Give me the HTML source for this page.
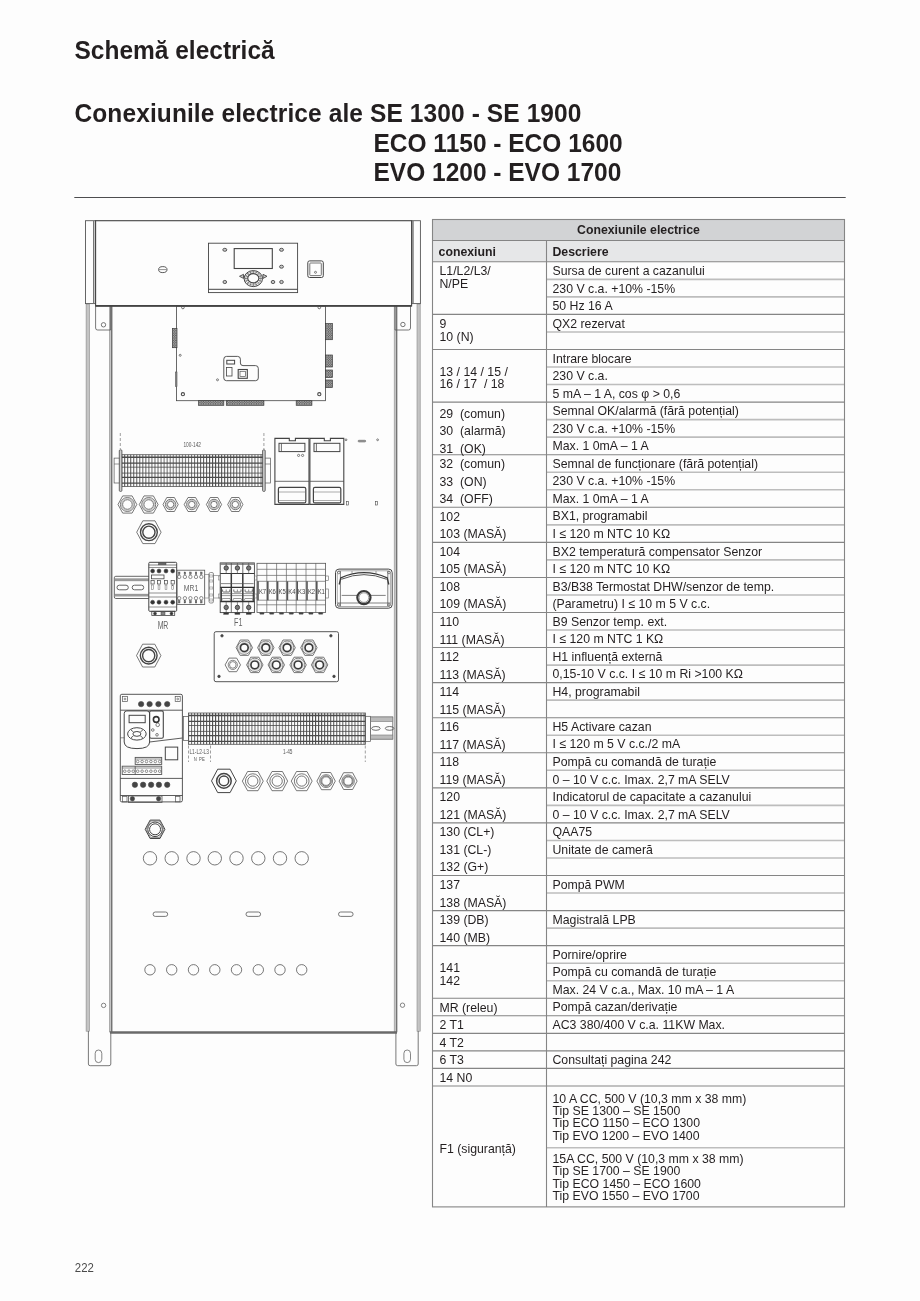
<!DOCTYPE html>
<html><head><meta charset="utf-8"><title>Schemă electrică</title>
<style>
html,body{margin:0;padding:0;background:#fdfdfd;}
body{width:920px;height:1301px;overflow:hidden;position:relative;font-family:"Liberation Sans",sans-serif;}
svg{position:absolute;left:0;top:0;will-change:transform;}
text{font-family:"Liberation Sans",sans-serif;}
</style></head><body>
<svg width="920" height="1301" viewBox="0 0 920 1301">
<defs>
<pattern id="tv" x="0" y="0" width="3.03" height="40" patternUnits="userSpaceOnUse">
<rect x="0" y="0" width="0.95" height="40" fill="#505050"/>
</pattern>
<pattern id="chk" x="0" y="0" width="2.4" height="2.4" patternUnits="userSpaceOnUse">
<rect x="0" y="0" width="2.4" height="2.4" fill="#555"/><rect x="0.2" y="0.2" width="1.1" height="1.1" fill="#e6e6e6"/><rect x="1.4" y="1.4" width="0.9" height="0.9" fill="#cfcfcf"/>
</pattern>
</defs>
<rect x="86.1" y="304" width="3.4" height="727.2" rx="0" fill="#c4c4c4" stroke="#8a8a8a" stroke-width="0.6" />
<rect x="417" y="304" width="3.2" height="727.2" rx="0" fill="#c4c4c4" stroke="#8a8a8a" stroke-width="0.6" />
<rect x="109.3" y="306" width="2.9" height="726" rx="0" fill="#d0d0d0" stroke="#8a8a8a" stroke-width="0.6" />
<line x1="111.4" y1="306" x2="111.4" y2="1032" stroke="#6a6a6a" stroke-width="1.0" />
<rect x="394.2" y="306" width="2.9" height="726" rx="0" fill="#d0d0d0" stroke="#8a8a8a" stroke-width="0.6" />
<line x1="396.4" y1="306" x2="396.4" y2="1032" stroke="#6a6a6a" stroke-width="1.0" />
<line x1="110" y1="1032.5" x2="397" y2="1032.5" stroke="#6a6a6a" stroke-width="2.4" />
<path d="M88.4,1031 L88.4,1064 Q88.4,1065.7 90.2,1065.7 L109,1065.7 Q110.8,1065.7 110.8,1064 L110.8,1032" fill="none" stroke="#6a6a6a" stroke-width="0.9"/>
<rect x="95.2" y="1050" width="6.6" height="12.6" rx="3.3" fill="none" stroke="#666" stroke-width="0.8" />
<path d="M395.9,1032 L395.9,1064 Q395.9,1065.7 397.7,1065.7 L416.4,1065.7 Q418.2,1065.7 418.2,1064 L418.2,1031" fill="none" stroke="#6a6a6a" stroke-width="0.9"/>
<rect x="403.9" y="1050" width="6.6" height="12.6" rx="3.3" fill="none" stroke="#666" stroke-width="0.8" />
<circle cx="103.6" cy="1005.4" r="2.2" fill="none" stroke="#666" stroke-width="0.8"/>
<circle cx="402.5" cy="1005.2" r="2.2" fill="none" stroke="#666" stroke-width="0.8"/>
<path d="M95.6,306 L95.6,328 Q95.6,330 97.6,330 L110.6,330 L110.6,306" fill="none" stroke="#555" stroke-width="0.8"/>
<circle cx="103.5" cy="324.8" r="2.2" fill="none" stroke="#555" stroke-width="0.8"/>
<path d="M410.5,306 L410.5,328 Q410.5,330 408.5,330 L395,330 L395,306" fill="none" stroke="#555" stroke-width="0.8"/>
<circle cx="402.9" cy="324.5" r="2.2" fill="none" stroke="#555" stroke-width="0.8"/>
<rect x="85.5" y="220.7" width="10.1" height="82.9" rx="0" fill="#fdfdfd" stroke="#555" stroke-width="0.9" />
<line x1="93.7" y1="221" x2="93.7" y2="303.6" stroke="#777" stroke-width="1.4" />
<rect x="411.6" y="220.7" width="8.8" height="82.9" rx="0" fill="#fdfdfd" stroke="#555" stroke-width="0.9" />
<line x1="413" y1="221" x2="413" y2="303.6" stroke="#777" stroke-width="1.4" />
<rect x="95.6" y="220.7" width="316" height="85.2" rx="0" fill="#fdfdfd" stroke="#444" stroke-width="1.1" />
<line x1="95.6" y1="305.9" x2="411.6" y2="305.9" stroke="#444" stroke-width="1.6" />
<ellipse cx="162.8" cy="269.6" rx="4.2" ry="3" fill="none" stroke="#4a4a4a" stroke-width="0.9"/>
<line x1="159" y1="269.6" x2="166.6" y2="269.6" stroke="#4a4a4a" stroke-width="0.6" />
<rect x="208.5" y="243.2" width="89.1" height="49.4" rx="0" fill="none" stroke="#444" stroke-width="0.9" />
<line x1="208.5" y1="289.3" x2="297.6" y2="289.3" stroke="#444" stroke-width="1.0" />
<rect x="234.2" y="248.6" width="38.1" height="19.9" rx="0" fill="none" stroke="#444" stroke-width="1.1" />
<ellipse cx="253.3" cy="278.6" rx="9.2" ry="8" fill="none" stroke="#444" stroke-width="1.0"/>
<ellipse cx="253.3" cy="278.4" rx="7.6" ry="6.6" fill="none" stroke="#777" stroke-width="0.6"/>
<ellipse cx="253.3" cy="278.3" rx="5.6" ry="4.6" fill="none" stroke="#444" stroke-width="1.2"/>
<line x1="259.1" y1="278.4" x2="262.3" y2="278.5" stroke="#555" stroke-width="0.7" />
<line x1="258.66" y1="280.24" x2="261.61" y2="281.48" stroke="#555" stroke-width="0.7" />
<line x1="257.4" y1="281.79" x2="259.66" y2="284.02" stroke="#555" stroke-width="0.7" />
<line x1="255.52" y1="282.83" x2="256.74" y2="285.71" stroke="#555" stroke-width="0.7" />
<line x1="253.3" y1="283.2" x2="253.3" y2="286.3" stroke="#555" stroke-width="0.7" />
<line x1="251.08" y1="282.83" x2="249.86" y2="285.71" stroke="#555" stroke-width="0.7" />
<line x1="249.2" y1="281.79" x2="246.94" y2="284.02" stroke="#555" stroke-width="0.7" />
<line x1="247.94" y1="280.24" x2="244.99" y2="281.48" stroke="#555" stroke-width="0.7" />
<line x1="247.5" y1="278.4" x2="244.3" y2="278.5" stroke="#555" stroke-width="0.7" />
<line x1="247.94" y1="276.56" x2="244.99" y2="275.52" stroke="#555" stroke-width="0.7" />
<line x1="249.2" y1="275.01" x2="246.94" y2="272.98" stroke="#555" stroke-width="0.7" />
<line x1="251.08" y1="273.97" x2="249.86" y2="271.29" stroke="#555" stroke-width="0.7" />
<line x1="253.3" y1="273.6" x2="253.3" y2="270.7" stroke="#555" stroke-width="0.7" />
<line x1="255.52" y1="273.97" x2="256.74" y2="271.29" stroke="#555" stroke-width="0.7" />
<line x1="257.4" y1="275.01" x2="259.66" y2="272.98" stroke="#555" stroke-width="0.7" />
<line x1="258.66" y1="276.56" x2="261.61" y2="275.52" stroke="#555" stroke-width="0.7" />
<ellipse cx="224.8" cy="249.8" rx="2" ry="1.5" fill="#c8c8c8" stroke="#4a4a4a" stroke-width="0.9"/>
<ellipse cx="281.5" cy="249.8" rx="2" ry="1.5" fill="#c8c8c8" stroke="#4a4a4a" stroke-width="0.9"/>
<ellipse cx="281.5" cy="266.7" rx="2" ry="1.5" fill="#c8c8c8" stroke="#4a4a4a" stroke-width="0.9"/>
<ellipse cx="224.8" cy="282" rx="1.8" ry="1.6" fill="#c8c8c8" stroke="#4a4a4a" stroke-width="0.9"/>
<ellipse cx="273" cy="282" rx="1.8" ry="1.6" fill="#c8c8c8" stroke="#4a4a4a" stroke-width="0.9"/>
<ellipse cx="281.5" cy="282" rx="1.8" ry="1.6" fill="#c8c8c8" stroke="#4a4a4a" stroke-width="0.9"/>
<path d="M243.5,274.3 L239.5,276.3 L243.5,278.4 Z" fill="#ccc" stroke="#4a4a4a" stroke-width="0.9"/>
<path d="M263,274.3 L267,276.3 L263,278.4 Z" fill="#ccc" stroke="#4a4a4a" stroke-width="0.9"/>
<rect x="307.8" y="260.9" width="15.5" height="16.6" rx="1.8" fill="none" stroke="#444" stroke-width="1.0" />
<rect x="309.8" y="263" width="11.5" height="12.6" rx="0.8" fill="none" stroke="#555" stroke-width="0.8" />
<circle cx="315.5" cy="272.3" r="1" fill="none" stroke="#4a4a4a" stroke-width="0.7"/>
<rect x="176.5" y="306" width="148.9" height="94.7" rx="0" fill="none" stroke="#444" stroke-width="0.8" />
<circle cx="182.9" cy="307.5" r="1.3" fill="none" stroke="#4a4a4a" stroke-width="0.8"/>
<circle cx="319.3" cy="307.5" r="1.3" fill="none" stroke="#4a4a4a" stroke-width="0.8"/>
<circle cx="182.9" cy="394.2" r="1.6" fill="none" stroke="#4a4a4a" stroke-width="1.1"/>
<circle cx="319.3" cy="394.2" r="1.6" fill="none" stroke="#4a4a4a" stroke-width="1.1"/>
<circle cx="180.2" cy="355.3" r="1" fill="none" stroke="#4a4a4a" stroke-width="0.7"/>
<circle cx="217.5" cy="379.8" r="1" fill="none" stroke="#4a4a4a" stroke-width="0.7"/>
<rect x="172.4" y="328.6" width="4.6" height="19.1" fill="url(#chk)" stroke="#3a3a3a" stroke-width="0.7"/>
<rect x="175.5" y="372" width="1.5" height="14.5" rx="0" fill="#888" stroke="#555" stroke-width="0.6" />
<rect x="325.4" y="323.6" width="7" height="16.1" fill="url(#chk)" stroke="#3a3a3a" stroke-width="0.7"/>
<rect x="325.4" y="355" width="7" height="12" fill="url(#chk)" stroke="#3a3a3a" stroke-width="0.7"/>
<rect x="325.4" y="370" width="7" height="7.5" fill="url(#chk)" stroke="#3a3a3a" stroke-width="0.7"/>
<rect x="325.4" y="380" width="7" height="7.5" fill="url(#chk)" stroke="#3a3a3a" stroke-width="0.7"/>
<rect x="198.6" y="400.7" width="25.2" height="4.6" fill="url(#chk)" stroke="#3a3a3a" stroke-width="0.7"/>
<rect x="226.3" y="400.7" width="37.6" height="4.6" fill="url(#chk)" stroke="#3a3a3a" stroke-width="0.7"/>
<rect x="296.2" y="400.7" width="15.7" height="4.6" fill="url(#chk)" stroke="#3a3a3a" stroke-width="0.7"/>
<path d="M226.5,356.4 L237.6,356.4 Q240.4,356.4 240.4,359.2 L240.4,363 Q240.4,365.6 243,365.6 L255.5,365.6 Q258.3,365.6 258.3,368.4 L258.3,378 Q258.3,380.7 255.5,380.7 L226.5,380.7 Q223.8,380.7 223.8,378 L223.8,359.2 Q223.8,356.4 226.5,356.4 Z" fill="none" stroke="#444" stroke-width="0.9"/>
<rect x="226.8" y="360.3" width="7.8" height="3.7" rx="0" fill="none" stroke="#444" stroke-width="1.0" />
<rect x="226.5" y="367.5" width="5.5" height="8.5" rx="0" fill="none" stroke="#444" stroke-width="0.8" />
<rect x="238.2" y="369.5" width="9.1" height="8.8" rx="0" fill="none" stroke="#444" stroke-width="1.1" />
<rect x="240" y="371.3" width="5.5" height="5.2" rx="0" fill="none" stroke="#555" stroke-width="0.7" />
<line x1="120.3" y1="433" x2="120.3" y2="449" stroke="#777" stroke-width="0.7" stroke-dasharray="3,2"/>
<line x1="263.9" y1="433" x2="263.9" y2="449" stroke="#777" stroke-width="0.7" stroke-dasharray="3,2"/>
<text x="192.2" y="447.3" font-size="7.0" fill="#555" text-anchor="middle" textLength="17.5" lengthAdjust="spacingAndGlyphs">100-142</text>
<rect x="114.1" y="458.1" width="5.9" height="24.9" rx="0" fill="#fdfdfd" stroke="#555" stroke-width="0.7" />
<line x1="114.1" y1="464" x2="120" y2="464" stroke="#555" stroke-width="0.6" />
<rect x="264" y="458.1" width="6.4" height="24.9" rx="0" fill="#fdfdfd" stroke="#555" stroke-width="0.7" />
<line x1="264" y1="464" x2="270.4" y2="464" stroke="#555" stroke-width="0.6" />
<rect x="121.7" y="454.7" width="141.6" height="31.8" fill="url(#tv)"/>
<line x1="121.7" y1="457.2" x2="263.3" y2="457.2" stroke="#4a4a4a" stroke-width="1.4" />
<line x1="121.7" y1="463.1" x2="263.3" y2="463.1" stroke="#4a4a4a" stroke-width="1.3" />
<line x1="121.7" y1="467.2" x2="263.3" y2="467.2" stroke="#4a4a4a" stroke-width="0.8" />
<line x1="121.7" y1="473.1" x2="263.3" y2="473.1" stroke="#4a4a4a" stroke-width="0.8" />
<line x1="121.7" y1="477.4" x2="263.3" y2="477.4" stroke="#4a4a4a" stroke-width="1.4" />
<line x1="121.7" y1="483.1" x2="263.3" y2="483.1" stroke="#4a4a4a" stroke-width="1.3" />
<rect x="121.7" y="454.7" width="141.6" height="31.8" rx="0" fill="none" stroke="#555" stroke-width="0.8" />
<rect x="119.3" y="449.8" width="2.6" height="41.6" rx="1" fill="#cfcfcf" stroke="#444" stroke-width="0.8" />
<rect x="262.6" y="449.8" width="2.6" height="41.6" rx="1" fill="#cfcfcf" stroke="#444" stroke-width="0.8" />
<polygon points="118,504.5 122.7,495.9 132.1,495.9 136.8,504.5 132.1,513.1 122.7,513.1" fill="none" stroke="#555" stroke-width="0.8" stroke-linejoin="round"/>
<circle cx="127.4" cy="504.5" r="7" fill="none" stroke="#555" stroke-width="0.8"/>
<circle cx="127.4" cy="504.5" r="5.9" fill="none" stroke="#999" stroke-width="0.6"/>
<circle cx="127.4" cy="504.5" r="4.8" fill="none" stroke="#555" stroke-width="0.8"/>
<polygon points="139.3,504.5 144,495.9 153.4,495.9 158.1,504.5 153.4,513.1 144,513.1" fill="none" stroke="#555" stroke-width="0.8" stroke-linejoin="round"/>
<circle cx="148.7" cy="504.5" r="7" fill="none" stroke="#555" stroke-width="0.8"/>
<circle cx="148.7" cy="504.5" r="5.9" fill="none" stroke="#999" stroke-width="0.6"/>
<circle cx="148.7" cy="504.5" r="4.8" fill="none" stroke="#555" stroke-width="0.8"/>
<polygon points="163,504.5 166.8,497.5 174.4,497.5 178.2,504.5 174.4,511.5 166.8,511.5" fill="none" stroke="#555" stroke-width="0.8" stroke-linejoin="round"/>
<circle cx="170.6" cy="504.5" r="5.2" fill="none" stroke="#555" stroke-width="0.8"/>
<circle cx="170.6" cy="504.5" r="4.2" fill="none" stroke="#999" stroke-width="0.6"/>
<circle cx="170.6" cy="504.5" r="3.2" fill="none" stroke="#555" stroke-width="0.8"/>
<polygon points="184.2,504.5 188,497.5 195.6,497.5 199.4,504.5 195.6,511.5 188,511.5" fill="none" stroke="#555" stroke-width="0.8" stroke-linejoin="round"/>
<circle cx="191.8" cy="504.5" r="5.2" fill="none" stroke="#555" stroke-width="0.8"/>
<circle cx="191.8" cy="504.5" r="4.2" fill="none" stroke="#999" stroke-width="0.6"/>
<circle cx="191.8" cy="504.5" r="3.2" fill="none" stroke="#555" stroke-width="0.8"/>
<polygon points="206.4,504.5 210.2,497.5 217.8,497.5 221.6,504.5 217.8,511.5 210.2,511.5" fill="none" stroke="#555" stroke-width="0.8" stroke-linejoin="round"/>
<circle cx="214" cy="504.5" r="5.2" fill="none" stroke="#555" stroke-width="0.8"/>
<circle cx="214" cy="504.5" r="4.2" fill="none" stroke="#999" stroke-width="0.6"/>
<circle cx="214" cy="504.5" r="3.2" fill="none" stroke="#555" stroke-width="0.8"/>
<polygon points="227.7,504.5 231.5,497.5 239.1,497.5 242.9,504.5 239.1,511.5 231.5,511.5" fill="none" stroke="#555" stroke-width="0.8" stroke-linejoin="round"/>
<circle cx="235.3" cy="504.5" r="5.2" fill="none" stroke="#555" stroke-width="0.8"/>
<circle cx="235.3" cy="504.5" r="4.2" fill="none" stroke="#999" stroke-width="0.6"/>
<circle cx="235.3" cy="504.5" r="3.2" fill="none" stroke="#555" stroke-width="0.8"/>
<polygon points="136.7,532.2 142.8,520.8 155,520.8 161.1,532.2 155,543.6 142.8,543.6" fill="none" stroke="#555" stroke-width="0.8" stroke-linejoin="round"/>
<circle cx="148.9" cy="532.2" r="8.4" fill="none" stroke="#444" stroke-width="1.4"/>
<circle cx="148.9" cy="532.2" r="6.1" fill="none" stroke="#444" stroke-width="1.4"/>
<path d="M274.9,438.4 L289.3,438.4 L289.3,440.7 L295.4,440.7 L295.4,438.4 L309,438.4 L309,504.4 L274.9,504.4 Z" fill="none" stroke="#444" stroke-width="1.1"/>
<rect x="279" y="443.3" width="25.9" height="8.3" rx="0" fill="none" stroke="#444" stroke-width="1.0" />
<line x1="281.4" y1="443.3" x2="281.4" y2="451.6" stroke="#4a4a4a" stroke-width="0.8" />
<line x1="274.9" y1="481.3" x2="309" y2="481.3" stroke="#4a4a4a" stroke-width="0.8" />
<rect x="278.4" y="487.4" width="27.4" height="15.5" rx="1.5" fill="none" stroke="#444" stroke-width="1.2" />
<line x1="278.9" y1="492" x2="305.3" y2="492" stroke="#777" stroke-width="0.6" />
<line x1="278.9" y1="500.5" x2="305.3" y2="500.5" stroke="#777" stroke-width="0.6" />
<path d="M309.9,438.4 L324.3,438.4 L324.3,440.7 L330.4,440.7 L330.4,438.4 L343.8,438.4 L343.8,504.4 L309.9,504.4 Z" fill="none" stroke="#444" stroke-width="1.1"/>
<rect x="314" y="443.3" width="25.9" height="8.3" rx="0" fill="none" stroke="#444" stroke-width="1.0" />
<line x1="316.4" y1="443.3" x2="316.4" y2="451.6" stroke="#4a4a4a" stroke-width="0.8" />
<line x1="309.9" y1="481.3" x2="343.8" y2="481.3" stroke="#4a4a4a" stroke-width="0.8" />
<rect x="313.4" y="487.4" width="27.4" height="15.5" rx="1.5" fill="none" stroke="#444" stroke-width="1.2" />
<line x1="313.9" y1="492" x2="340.3" y2="492" stroke="#777" stroke-width="0.6" />
<line x1="313.9" y1="500.5" x2="340.3" y2="500.5" stroke="#777" stroke-width="0.6" />
<circle cx="298.6" cy="455.4" r="1.1" fill="none" stroke="#4a4a4a" stroke-width="0.7"/>
<circle cx="302.6" cy="455.4" r="1.1" fill="none" stroke="#4a4a4a" stroke-width="0.7"/>
<circle cx="346" cy="439.8" r="0.9" fill="none" stroke="#4a4a4a" stroke-width="0.7"/>
<circle cx="377.6" cy="439.8" r="0.9" fill="none" stroke="#4a4a4a" stroke-width="0.7"/>
<rect x="358.1" y="440.3" width="7.6" height="1.6" rx="0.8" fill="#aaa" stroke="#666" stroke-width="0.7" />
<rect x="346.6" y="501.5" width="1.8" height="3.5" rx="0" fill="none" stroke="#4a4a4a" stroke-width="0.6" />
<rect x="375.6" y="501.5" width="1.8" height="3.5" rx="0" fill="none" stroke="#4a4a4a" stroke-width="0.6" />
<path d="M149,576.3 L115.8,576.3 Q114.3,576.3 114.3,577.8 L114.3,597 Q114.3,598.5 115.8,598.5 L149,598.5" fill="none" stroke="#555" stroke-width="0.9"/>
<rect x="114.8" y="578.3" width="34.2" height="2.4" rx="0" fill="#9a9a9a" stroke="none" stroke-width="0" />
<rect x="114.8" y="594.3" width="34.2" height="2.2" rx="0" fill="#9a9a9a" stroke="none" stroke-width="0" />
<line x1="114.3" y1="580.7" x2="149" y2="580.7" stroke="#777" stroke-width="0.6" />
<line x1="114.3" y1="594.3" x2="149" y2="594.3" stroke="#777" stroke-width="0.6" />
<rect x="117" y="585.2" width="11.3" height="4.6" rx="2.3" fill="none" stroke="#555" stroke-width="0.9" />
<rect x="132.2" y="585.2" width="11.5" height="4.6" rx="2.3" fill="none" stroke="#555" stroke-width="0.9" />
<rect x="148.8" y="562.3" width="27.9" height="49" rx="1" fill="#fdfdfd" stroke="#444" stroke-width="1.0" />
<line x1="148.8" y1="565" x2="176.7" y2="565" stroke="#4a4a4a" stroke-width="0.7" />
<rect x="158.5" y="562.3" width="7.5" height="2.5" rx="0" fill="#666" stroke="#4a4a4a" stroke-width="0.5" />
<line x1="148.8" y1="567.5" x2="176.7" y2="567.5" stroke="#4a4a4a" stroke-width="0.6" />
<circle cx="152.6" cy="571" r="2" fill="#333" stroke="#4a4a4a" stroke-width="0.5"/>
<circle cx="159" cy="571" r="2" fill="#333" stroke="#4a4a4a" stroke-width="0.5"/>
<circle cx="166" cy="571" r="2" fill="#333" stroke="#4a4a4a" stroke-width="0.5"/>
<circle cx="172.7" cy="571" r="2" fill="#333" stroke="#4a4a4a" stroke-width="0.5"/>
<rect x="151.5" y="575" width="12.5" height="3.8" rx="0" fill="none" stroke="#444" stroke-width="0.8" />
<rect x="151" y="580.5" width="3.2" height="3.5" rx="0" fill="none" stroke="#444" stroke-width="0.7" />
<rect x="151.7" y="585" width="1.8" height="4.5" rx="0" fill="none" stroke="#666" stroke-width="0.5" />
<rect x="157.4" y="580.5" width="3.2" height="3.5" rx="0" fill="none" stroke="#444" stroke-width="0.7" />
<rect x="158.1" y="585" width="1.8" height="4.5" rx="0" fill="none" stroke="#666" stroke-width="0.5" />
<rect x="164.4" y="580.5" width="3.2" height="3.5" rx="0" fill="none" stroke="#444" stroke-width="0.7" />
<rect x="165.1" y="585" width="1.8" height="4.5" rx="0" fill="none" stroke="#666" stroke-width="0.5" />
<rect x="171.1" y="580.5" width="3.2" height="3.5" rx="0" fill="none" stroke="#444" stroke-width="0.7" />
<rect x="171.8" y="585" width="1.8" height="4.5" rx="0" fill="none" stroke="#666" stroke-width="0.5" />
<line x1="148.8" y1="593" x2="176.7" y2="593" stroke="#4a4a4a" stroke-width="0.6" />
<line x1="148.8" y1="597" x2="176.7" y2="597" stroke="#4a4a4a" stroke-width="0.6" />
<circle cx="152.6" cy="602.2" r="2" fill="#333" stroke="#4a4a4a" stroke-width="0.5"/>
<circle cx="159" cy="602.2" r="2" fill="#333" stroke="#4a4a4a" stroke-width="0.5"/>
<circle cx="166" cy="602.2" r="2" fill="#333" stroke="#4a4a4a" stroke-width="0.5"/>
<circle cx="172.7" cy="602.2" r="2" fill="#333" stroke="#4a4a4a" stroke-width="0.5"/>
<line x1="148.8" y1="607" x2="176.7" y2="607" stroke="#4a4a4a" stroke-width="0.6" />
<rect x="151.8" y="611.3" width="22.9" height="4.3" rx="0" fill="none" stroke="#444" stroke-width="0.8" />
<circle cx="155" cy="613.5" r="1.5" fill="#333" stroke="#4a4a4a" stroke-width="0.5"/>
<circle cx="171.5" cy="613.5" r="1.5" fill="#333" stroke="#4a4a4a" stroke-width="0.5"/>
<rect x="161" y="612.3" width="4" height="2.5" rx="0" fill="#888" stroke="#4a4a4a" stroke-width="0.5" />
<rect x="177" y="570.2" width="27.7" height="34.3" rx="0" fill="none" stroke="#555" stroke-width="0.8" />
<circle cx="179.2" cy="576.9" r="1.7" fill="none" stroke="#4a4a4a" stroke-width="0.6"/>
<circle cx="179.2" cy="598.2" r="1.7" fill="none" stroke="#4a4a4a" stroke-width="0.6"/>
<rect x="178.4" y="572" width="1.6" height="2.5" rx="0" fill="#777" stroke="#4a4a4a" stroke-width="0.4" />
<rect x="178.4" y="600.6" width="1.6" height="2.4" rx="0" fill="#777" stroke="#4a4a4a" stroke-width="0.4" />
<circle cx="184.9" cy="576.9" r="1.7" fill="none" stroke="#4a4a4a" stroke-width="0.6"/>
<circle cx="184.9" cy="598.2" r="1.7" fill="none" stroke="#4a4a4a" stroke-width="0.6"/>
<rect x="184.1" y="572" width="1.6" height="2.5" rx="0" fill="#777" stroke="#4a4a4a" stroke-width="0.4" />
<rect x="184.1" y="600.6" width="1.6" height="2.4" rx="0" fill="#777" stroke="#4a4a4a" stroke-width="0.4" />
<circle cx="190.4" cy="576.9" r="1.7" fill="none" stroke="#4a4a4a" stroke-width="0.6"/>
<circle cx="190.4" cy="598.2" r="1.7" fill="none" stroke="#4a4a4a" stroke-width="0.6"/>
<rect x="189.6" y="572" width="1.6" height="2.5" rx="0" fill="#777" stroke="#4a4a4a" stroke-width="0.4" />
<rect x="189.6" y="600.6" width="1.6" height="2.4" rx="0" fill="#777" stroke="#4a4a4a" stroke-width="0.4" />
<circle cx="196" cy="576.9" r="1.7" fill="none" stroke="#4a4a4a" stroke-width="0.6"/>
<circle cx="196" cy="598.2" r="1.7" fill="none" stroke="#4a4a4a" stroke-width="0.6"/>
<rect x="195.2" y="572" width="1.6" height="2.5" rx="0" fill="#777" stroke="#4a4a4a" stroke-width="0.4" />
<rect x="195.2" y="600.6" width="1.6" height="2.4" rx="0" fill="#777" stroke="#4a4a4a" stroke-width="0.4" />
<circle cx="201.3" cy="576.9" r="1.7" fill="none" stroke="#4a4a4a" stroke-width="0.6"/>
<circle cx="201.3" cy="598.2" r="1.7" fill="none" stroke="#4a4a4a" stroke-width="0.6"/>
<rect x="200.5" y="572" width="1.6" height="2.5" rx="0" fill="#777" stroke="#4a4a4a" stroke-width="0.4" />
<rect x="200.5" y="600.6" width="1.6" height="2.4" rx="0" fill="#777" stroke="#4a4a4a" stroke-width="0.4" />
<text x="191" y="591.3" font-size="9.8" fill="#666" text-anchor="middle" textLength="14.5" lengthAdjust="spacingAndGlyphs">MR1</text>
<rect x="204.7" y="574.5" width="4.3" height="23.5" rx="0" fill="none" stroke="#777" stroke-width="0.6" />
<rect x="209" y="572.5" width="4.5" height="30.5" rx="1.5" fill="none" stroke="#666" stroke-width="0.7" />
<rect x="209.6" y="575" width="3.3" height="2" rx="0" fill="none" stroke="#777" stroke-width="0.5" />
<rect x="209.6" y="580" width="3.3" height="2" rx="0" fill="none" stroke="#777" stroke-width="0.5" />
<rect x="209.6" y="587" width="3.3" height="2" rx="0" fill="none" stroke="#777" stroke-width="0.5" />
<rect x="209.6" y="594" width="3.3" height="2" rx="0" fill="none" stroke="#777" stroke-width="0.5" />
<rect x="209.6" y="599" width="3.3" height="2" rx="0" fill="none" stroke="#777" stroke-width="0.5" />
<rect x="213.5" y="575.5" width="6.8" height="22.5" rx="0" fill="none" stroke="#777" stroke-width="0.6" />
<rect x="220.2" y="563" width="34.2" height="49.6" rx="0" fill="#fdfdfd" stroke="#444" stroke-width="0.9" />
<rect x="220.2" y="563" width="34.2" height="1.6" rx="0" fill="#999" stroke="#666" stroke-width="0.5" />
<line x1="231.3" y1="563" x2="231.3" y2="573.5" stroke="#4a4a4a" stroke-width="0.8" />
<line x1="231.3" y1="573.5" x2="231.3" y2="601.5" stroke="#3a3a3a" stroke-width="1.5" />
<line x1="231.3" y1="601.5" x2="231.3" y2="612.6" stroke="#4a4a4a" stroke-width="0.8" />
<line x1="242.8" y1="563" x2="242.8" y2="573.5" stroke="#4a4a4a" stroke-width="0.8" />
<line x1="242.8" y1="573.5" x2="242.8" y2="601.5" stroke="#3a3a3a" stroke-width="1.5" />
<line x1="242.8" y1="601.5" x2="242.8" y2="612.6" stroke="#4a4a4a" stroke-width="0.8" />
<line x1="220.2" y1="573.5" x2="254.4" y2="573.5" stroke="#3a3a3a" stroke-width="1.0" />
<line x1="221" y1="583.6" x2="253.6" y2="583.6" stroke="#555" stroke-width="0.7" />
<line x1="220.2" y1="587.4" x2="254.4" y2="587.4" stroke="#333" stroke-width="1.3" />
<line x1="221" y1="593.6" x2="253.6" y2="593.6" stroke="#555" stroke-width="0.6" />
<line x1="221" y1="595.6" x2="253.6" y2="595.6" stroke="#555" stroke-width="0.6" />
<line x1="220.2" y1="601.5" x2="254.4" y2="601.5" stroke="#333" stroke-width="1.4" />
<line x1="221.3" y1="587.4" x2="221.3" y2="601.5" stroke="#333" stroke-width="1.2" />
<line x1="253.3" y1="587.4" x2="253.3" y2="601.5" stroke="#333" stroke-width="1.2" />
<line x1="226.2" y1="563" x2="226.2" y2="573.5" stroke="#444" stroke-width="0.6" />
<line x1="226.2" y1="601.5" x2="226.2" y2="612.6" stroke="#444" stroke-width="0.6" />
<circle cx="226.2" cy="568" r="2.2" fill="#777" stroke="#333" stroke-width="0.8"/>
<circle cx="226.2" cy="607.4" r="2.2" fill="#777" stroke="#333" stroke-width="0.8"/>
<path d="M222.6,589.5 L222.6,591.2 Q222.6,592 223.4,592 L229,592 Q229.8,592 229.8,591.2 L229.8,589.5" fill="none" stroke="#444" stroke-width="0.8"/>
<line x1="226.2" y1="589.5" x2="226.2" y2="591.5" stroke="#444" stroke-width="0.6" />
<path d="M221.7,600.5 L222.4,598.5 L230,598.5 L230.7,600.5" fill="none" stroke="#555" stroke-width="0.6"/>
<rect x="223.7" y="612.6" width="5" height="1.8" rx="0" fill="#333" stroke="#4a4a4a" stroke-width="0.4" />
<line x1="237.4" y1="563" x2="237.4" y2="573.5" stroke="#444" stroke-width="0.6" />
<line x1="237.4" y1="601.5" x2="237.4" y2="612.6" stroke="#444" stroke-width="0.6" />
<circle cx="237.4" cy="568" r="2.2" fill="#777" stroke="#333" stroke-width="0.8"/>
<circle cx="237.4" cy="607.4" r="2.2" fill="#777" stroke="#333" stroke-width="0.8"/>
<path d="M233.8,589.5 L233.8,591.2 Q233.8,592 234.6,592 L240.2,592 Q241,592 241,591.2 L241,589.5" fill="none" stroke="#444" stroke-width="0.8"/>
<line x1="237.4" y1="589.5" x2="237.4" y2="591.5" stroke="#444" stroke-width="0.6" />
<path d="M232.9,600.5 L233.6,598.5 L241.2,598.5 L241.9,600.5" fill="none" stroke="#555" stroke-width="0.6"/>
<rect x="234.9" y="612.6" width="5" height="1.8" rx="0" fill="#333" stroke="#4a4a4a" stroke-width="0.4" />
<line x1="248.7" y1="563" x2="248.7" y2="573.5" stroke="#444" stroke-width="0.6" />
<line x1="248.7" y1="601.5" x2="248.7" y2="612.6" stroke="#444" stroke-width="0.6" />
<circle cx="248.7" cy="568" r="2.2" fill="#777" stroke="#333" stroke-width="0.8"/>
<circle cx="248.7" cy="607.4" r="2.2" fill="#777" stroke="#333" stroke-width="0.8"/>
<path d="M245.1,589.5 L245.1,591.2 Q245.1,592 245.9,592 L251.5,592 Q252.3,592 252.3,591.2 L252.3,589.5" fill="none" stroke="#444" stroke-width="0.8"/>
<line x1="248.7" y1="589.5" x2="248.7" y2="591.5" stroke="#444" stroke-width="0.6" />
<path d="M244.2,600.5 L244.9,598.5 L252.5,598.5 L253.2,600.5" fill="none" stroke="#555" stroke-width="0.6"/>
<rect x="246.2" y="612.6" width="5" height="1.8" rx="0" fill="#333" stroke="#4a4a4a" stroke-width="0.4" />
<rect x="218.5" y="576" width="1.7" height="4" rx="0" fill="none" stroke="#777" stroke-width="0.5" />
<rect x="218.5" y="594" width="1.7" height="4" rx="0" fill="none" stroke="#777" stroke-width="0.5" />
<rect x="254.4" y="576" width="2.6" height="4" rx="0" fill="none" stroke="#777" stroke-width="0.5" />
<rect x="254.4" y="594" width="2.6" height="4" rx="0" fill="none" stroke="#777" stroke-width="0.5" />
<text x="238.2" y="625.8" font-size="11.5" fill="#666" text-anchor="middle" textLength="8.4" lengthAdjust="spacingAndGlyphs">F1</text>
<text x="163" y="628.9" font-size="10.2" fill="#666" text-anchor="middle" textLength="10.7" lengthAdjust="spacingAndGlyphs">MR</text>
<rect x="257" y="563.3" width="68.6" height="49.3" rx="0" fill="#fdfdfd" stroke="#555" stroke-width="0.8" />
<line x1="266.8" y1="563" x2="266.8" y2="612.6" stroke="#666" stroke-width="0.7" />
<line x1="276.6" y1="563" x2="276.6" y2="612.6" stroke="#666" stroke-width="0.7" />
<line x1="286.4" y1="563" x2="286.4" y2="612.6" stroke="#666" stroke-width="0.7" />
<line x1="296.2" y1="563" x2="296.2" y2="612.6" stroke="#666" stroke-width="0.7" />
<line x1="306" y1="563" x2="306" y2="612.6" stroke="#666" stroke-width="0.7" />
<line x1="315.8" y1="563" x2="315.8" y2="612.6" stroke="#666" stroke-width="0.7" />
<line x1="257" y1="569.3" x2="325.6" y2="569.3" stroke="#666" stroke-width="0.7" />
<line x1="257" y1="575.4" x2="325.6" y2="575.4" stroke="#666" stroke-width="0.7" />
<line x1="257" y1="581.3" x2="325.6" y2="581.3" stroke="#666" stroke-width="0.7" />
<line x1="257" y1="600.2" x2="325.6" y2="600.2" stroke="#666" stroke-width="0.7" />
<line x1="257" y1="604.8" x2="325.6" y2="604.8" stroke="#666" stroke-width="0.7" />
<line x1="258" y1="581.3" x2="258" y2="600.2" stroke="#555" stroke-width="1.6" />
<text x="262.5" y="594.3" font-size="8" fill="#444" text-anchor="middle" textLength="7.2" lengthAdjust="spacingAndGlyphs">K7</text>
<rect x="259.8" y="612.6" width="4.2" height="1.6" rx="0.5" fill="#444" stroke="#4a4a4a" stroke-width="0.4" />
<line x1="267.8" y1="581.3" x2="267.8" y2="600.2" stroke="#555" stroke-width="1.6" />
<text x="272.3" y="594.3" font-size="8" fill="#444" text-anchor="middle" textLength="7.2" lengthAdjust="spacingAndGlyphs">K6</text>
<rect x="269.6" y="612.6" width="4.2" height="1.6" rx="0.5" fill="#444" stroke="#4a4a4a" stroke-width="0.4" />
<line x1="277.6" y1="581.3" x2="277.6" y2="600.2" stroke="#555" stroke-width="1.6" />
<text x="282.1" y="594.3" font-size="8" fill="#444" text-anchor="middle" textLength="7.2" lengthAdjust="spacingAndGlyphs">K5</text>
<rect x="279.4" y="612.6" width="4.2" height="1.6" rx="0.5" fill="#444" stroke="#4a4a4a" stroke-width="0.4" />
<line x1="287.4" y1="581.3" x2="287.4" y2="600.2" stroke="#555" stroke-width="1.6" />
<text x="291.9" y="594.3" font-size="8" fill="#444" text-anchor="middle" textLength="7.2" lengthAdjust="spacingAndGlyphs">K4</text>
<rect x="289.2" y="612.6" width="4.2" height="1.6" rx="0.5" fill="#444" stroke="#4a4a4a" stroke-width="0.4" />
<line x1="297.2" y1="581.3" x2="297.2" y2="600.2" stroke="#555" stroke-width="1.6" />
<text x="301.7" y="594.3" font-size="8" fill="#444" text-anchor="middle" textLength="7.2" lengthAdjust="spacingAndGlyphs">K3</text>
<rect x="299" y="612.6" width="4.2" height="1.6" rx="0.5" fill="#444" stroke="#4a4a4a" stroke-width="0.4" />
<line x1="307" y1="581.3" x2="307" y2="600.2" stroke="#555" stroke-width="1.6" />
<text x="311.5" y="594.3" font-size="8" fill="#444" text-anchor="middle" textLength="7.2" lengthAdjust="spacingAndGlyphs">K2</text>
<rect x="308.8" y="612.6" width="4.2" height="1.6" rx="0.5" fill="#444" stroke="#4a4a4a" stroke-width="0.4" />
<line x1="316.8" y1="581.3" x2="316.8" y2="600.2" stroke="#555" stroke-width="1.6" />
<text x="321.3" y="594.3" font-size="8" fill="#444" text-anchor="middle" textLength="7.2" lengthAdjust="spacingAndGlyphs">K1</text>
<rect x="318.6" y="612.6" width="4.2" height="1.6" rx="0.5" fill="#444" stroke="#4a4a4a" stroke-width="0.4" />
<rect x="325.6" y="576" width="2.9" height="4.5" rx="0" fill="none" stroke="#666" stroke-width="0.6" />
<rect x="325.6" y="589" width="2.9" height="9" rx="0" fill="none" stroke="#666" stroke-width="0.6" />
<rect x="335.5" y="569.1" width="56.7" height="39.1" rx="3.5" fill="none" stroke="#444" stroke-width="1.0" />
<rect x="337.3" y="570.8" width="53.1" height="35.7" rx="2.5" fill="none" stroke="#777" stroke-width="0.6" />
<line x1="340.4" y1="571" x2="340.4" y2="606.3" stroke="#4a4a4a" stroke-width="0.7" />
<line x1="387.8" y1="571" x2="387.8" y2="606.3" stroke="#4a4a4a" stroke-width="0.7" />
<path d="M339.2,584.5 L340.8,577.8 Q364,567.5 387.2,577.8 L388.8,584.5" fill="none" stroke="#3a3a3a" stroke-width="1.3"/>
<path d="M341.3,579.3 Q364,570 386.7,579.3" fill="none" stroke="#555" stroke-width="1.0"/>
<line x1="352" y1="573.4" x2="352" y2="571" stroke="#666" stroke-width="0.6" />
<line x1="376" y1="573.4" x2="376" y2="571" stroke="#666" stroke-width="0.6" />
<line x1="341.7" y1="595.4" x2="357" y2="595.4" stroke="#4a4a4a" stroke-width="0.7" />
<line x1="370.8" y1="595.4" x2="385.7" y2="595.4" stroke="#4a4a4a" stroke-width="0.7" />
<line x1="337.3" y1="603" x2="390.4" y2="603" stroke="#4a4a4a" stroke-width="0.7" />
<circle cx="363.9" cy="597.6" r="6.6" fill="none" stroke="#3a3a3a" stroke-width="2.2"/>
<circle cx="363.9" cy="597.6" r="4.8" fill="none" stroke="#666" stroke-width="0.6"/>
<circle cx="338.8" cy="572.5" r="1.3" fill="none" stroke="#4a4a4a" stroke-width="0.6"/>
<circle cx="389" cy="572.5" r="1.3" fill="none" stroke="#4a4a4a" stroke-width="0.6"/>
<circle cx="338.8" cy="605" r="1.3" fill="none" stroke="#4a4a4a" stroke-width="0.6"/>
<circle cx="389" cy="605" r="1.3" fill="none" stroke="#4a4a4a" stroke-width="0.6"/>
<rect x="214.2" y="631.7" width="124.3" height="50" rx="1.8" fill="none" stroke="#444" stroke-width="0.9" />
<circle cx="222" cy="635.8" r="1.3" fill="#444" stroke="#4a4a4a" stroke-width="0.6"/>
<circle cx="330.9" cy="635.8" r="1.3" fill="#444" stroke="#4a4a4a" stroke-width="0.6"/>
<circle cx="219" cy="676.4" r="1.3" fill="#444" stroke="#4a4a4a" stroke-width="0.6"/>
<circle cx="334" cy="676.4" r="1.3" fill="#444" stroke="#4a4a4a" stroke-width="0.6"/>
<polygon points="236.1,647.7 240.2,640 248.4,640 252.5,647.7 248.4,655.4 240.2,655.4" fill="none" stroke="#555" stroke-width="0.8" stroke-linejoin="round"/>
<circle cx="244.3" cy="647.7" r="6.7" fill="none" stroke="#555" stroke-width="0.7"/>
<circle cx="244.3" cy="647.7" r="3.9" fill="none" stroke="#3a3a3a" stroke-width="1.7"/>
<circle cx="244.3" cy="647.7" r="5.2" fill="none" stroke="#999" stroke-width="0.5"/>
<polygon points="257.6,647.7 261.7,640 269.9,640 274,647.7 269.9,655.4 261.7,655.4" fill="none" stroke="#555" stroke-width="0.8" stroke-linejoin="round"/>
<circle cx="265.8" cy="647.7" r="6.7" fill="none" stroke="#555" stroke-width="0.7"/>
<circle cx="265.8" cy="647.7" r="3.9" fill="none" stroke="#3a3a3a" stroke-width="1.7"/>
<circle cx="265.8" cy="647.7" r="5.2" fill="none" stroke="#999" stroke-width="0.5"/>
<polygon points="278.9,647.7 283,640 291.2,640 295.3,647.7 291.2,655.4 283,655.4" fill="none" stroke="#555" stroke-width="0.8" stroke-linejoin="round"/>
<circle cx="287.1" cy="647.7" r="6.7" fill="none" stroke="#555" stroke-width="0.7"/>
<circle cx="287.1" cy="647.7" r="3.9" fill="none" stroke="#3a3a3a" stroke-width="1.7"/>
<circle cx="287.1" cy="647.7" r="5.2" fill="none" stroke="#999" stroke-width="0.5"/>
<polygon points="300.7,647.7 304.8,640 313,640 317.1,647.7 313,655.4 304.8,655.4" fill="none" stroke="#555" stroke-width="0.8" stroke-linejoin="round"/>
<circle cx="308.9" cy="647.7" r="6.7" fill="none" stroke="#555" stroke-width="0.7"/>
<circle cx="308.9" cy="647.7" r="3.9" fill="none" stroke="#3a3a3a" stroke-width="1.7"/>
<circle cx="308.9" cy="647.7" r="5.2" fill="none" stroke="#999" stroke-width="0.5"/>
<polygon points="246.6,664.9 250.7,657.2 258.9,657.2 263,664.9 258.9,672.6 250.7,672.6" fill="none" stroke="#555" stroke-width="0.8" stroke-linejoin="round"/>
<circle cx="254.8" cy="664.9" r="6.7" fill="none" stroke="#555" stroke-width="0.7"/>
<circle cx="254.8" cy="664.9" r="3.9" fill="none" stroke="#3a3a3a" stroke-width="1.7"/>
<circle cx="254.8" cy="664.9" r="5.2" fill="none" stroke="#999" stroke-width="0.5"/>
<polygon points="268.1,664.9 272.2,657.2 280.4,657.2 284.5,664.9 280.4,672.6 272.2,672.6" fill="none" stroke="#555" stroke-width="0.8" stroke-linejoin="round"/>
<circle cx="276.3" cy="664.9" r="6.7" fill="none" stroke="#555" stroke-width="0.7"/>
<circle cx="276.3" cy="664.9" r="3.9" fill="none" stroke="#3a3a3a" stroke-width="1.7"/>
<circle cx="276.3" cy="664.9" r="5.2" fill="none" stroke="#999" stroke-width="0.5"/>
<polygon points="289.9,664.9 294,657.2 302.2,657.2 306.3,664.9 302.2,672.6 294,672.6" fill="none" stroke="#555" stroke-width="0.8" stroke-linejoin="round"/>
<circle cx="298.1" cy="664.9" r="6.7" fill="none" stroke="#555" stroke-width="0.7"/>
<circle cx="298.1" cy="664.9" r="3.9" fill="none" stroke="#3a3a3a" stroke-width="1.7"/>
<circle cx="298.1" cy="664.9" r="5.2" fill="none" stroke="#999" stroke-width="0.5"/>
<polygon points="311.4,664.9 315.5,657.2 323.7,657.2 327.8,664.9 323.7,672.6 315.5,672.6" fill="none" stroke="#555" stroke-width="0.8" stroke-linejoin="round"/>
<circle cx="319.6" cy="664.9" r="6.7" fill="none" stroke="#555" stroke-width="0.7"/>
<circle cx="319.6" cy="664.9" r="3.9" fill="none" stroke="#3a3a3a" stroke-width="1.7"/>
<circle cx="319.6" cy="664.9" r="5.2" fill="none" stroke="#999" stroke-width="0.5"/>
<polygon points="225.1,664.9 228.95,658.1 236.65,658.1 240.5,664.9 236.65,671.7 228.95,671.7" fill="none" stroke="#555" stroke-width="0.8" stroke-linejoin="round"/>
<circle cx="232.8" cy="664.9" r="4.6" fill="none" stroke="#555" stroke-width="0.7"/>
<circle cx="232.8" cy="664.9" r="3.3" fill="none" stroke="#555" stroke-width="0.7"/>
<polygon points="136.5,655.6 142.6,644.2 154.8,644.2 160.9,655.6 154.8,667 142.6,667" fill="none" stroke="#555" stroke-width="0.8" stroke-linejoin="round"/>
<circle cx="148.7" cy="655.6" r="8.4" fill="none" stroke="#444" stroke-width="1.4"/>
<circle cx="148.7" cy="655.6" r="6.1" fill="none" stroke="#444" stroke-width="1.4"/>
<rect x="120.3" y="694.3" width="62.1" height="107.6" rx="1.5" fill="none" stroke="#444" stroke-width="0.9" />
<rect x="122.5" y="696.5" width="5" height="5" rx="0" fill="none" stroke="#555" stroke-width="0.7" />
<rect x="175.2" y="696.5" width="5" height="5" rx="0" fill="none" stroke="#555" stroke-width="0.7" />
<circle cx="125" cy="699" r="0.9" fill="none" stroke="#4a4a4a" stroke-width="0.6"/>
<circle cx="177.7" cy="699" r="0.9" fill="none" stroke="#4a4a4a" stroke-width="0.6"/>
<line x1="120.3" y1="710.2" x2="182.4" y2="710.2" stroke="#4a4a4a" stroke-width="0.9" />
<circle cx="141.1" cy="704.1" r="2.7" fill="#444" stroke="#4a4a4a" stroke-width="0.6"/>
<circle cx="149.6" cy="704.1" r="2.7" fill="#444" stroke="#4a4a4a" stroke-width="0.6"/>
<circle cx="158.4" cy="704.1" r="2.7" fill="#444" stroke="#4a4a4a" stroke-width="0.6"/>
<circle cx="167.2" cy="704.1" r="2.7" fill="#444" stroke="#4a4a4a" stroke-width="0.6"/>
<path d="M124.2,713.5 Q124.2,710.9 126.8,710.9 L147,710.9 Q149.6,710.9 149.6,713.5 L149.6,742 Q149.6,748.6 137,748.6 Q124.2,748.6 124.2,742 Z" fill="none" stroke="#444" stroke-width="1.0"/>
<rect x="129.1" y="715.3" width="16.1" height="7.4" rx="0" fill="none" stroke="#444" stroke-width="1.0" />
<ellipse cx="136.9" cy="733.9" rx="9.3" ry="6.2" fill="none" stroke="#444" stroke-width="1.0"/>
<ellipse cx="136.9" cy="733.9" rx="4" ry="2.4" fill="none" stroke="#444" stroke-width="1.0"/>
<line x1="131" y1="730" x2="133.5" y2="732" stroke="#4a4a4a" stroke-width="0.9" />
<line x1="142.8" y1="730" x2="140.3" y2="732" stroke="#4a4a4a" stroke-width="0.9" />
<line x1="131" y1="737.8" x2="133.5" y2="735.8" stroke="#4a4a4a" stroke-width="0.9" />
<line x1="142.8" y1="737.8" x2="140.3" y2="735.8" stroke="#4a4a4a" stroke-width="0.9" />
<rect x="149.6" y="710.9" width="13.7" height="27.4" rx="1.5" fill="none" stroke="#444" stroke-width="1.1" />
<circle cx="156.2" cy="719.4" r="2.8" fill="none" stroke="#333" stroke-width="1.6"/>
<circle cx="157.7" cy="724.8" r="1.8" fill="none" stroke="#4a4a4a" stroke-width="0.7"/>
<circle cx="152.8" cy="730" r="1.3" fill="none" stroke="#4a4a4a" stroke-width="0.7"/>
<circle cx="157" cy="734.8" r="1.3" fill="none" stroke="#4a4a4a" stroke-width="0.7"/>
<line x1="120.3" y1="737.8" x2="124.2" y2="737.8" stroke="#4a4a4a" stroke-width="0.6" />
<line x1="149.6" y1="742" x2="182.4" y2="738" stroke="#4a4a4a" stroke-width="0.9" />
<rect x="165.3" y="747.1" width="12.4" height="12.7" rx="0" fill="none" stroke="#444" stroke-width="1.0" />
<rect x="135.2" y="757.4" width="26.5" height="7" rx="0" fill="none" stroke="#555" stroke-width="0.9" />
<line x1="135.2" y1="759" x2="161.7" y2="759" stroke="#4a4a4a" stroke-width="0.6" />
<circle cx="137.7" cy="761.5" r="1.3" fill="none" stroke="#4a4a4a" stroke-width="0.6"/>
<circle cx="142.1" cy="761.5" r="1.3" fill="none" stroke="#4a4a4a" stroke-width="0.6"/>
<circle cx="146.5" cy="761.5" r="1.3" fill="none" stroke="#4a4a4a" stroke-width="0.6"/>
<circle cx="150.9" cy="761.5" r="1.3" fill="none" stroke="#4a4a4a" stroke-width="0.6"/>
<circle cx="155.3" cy="761.5" r="1.3" fill="none" stroke="#4a4a4a" stroke-width="0.6"/>
<circle cx="159.7" cy="761.5" r="1.3" fill="none" stroke="#4a4a4a" stroke-width="0.6"/>
<rect x="122.2" y="766.2" width="39.5" height="8.3" rx="0" fill="none" stroke="#555" stroke-width="0.9" />
<line x1="122.2" y1="768" x2="161.7" y2="768" stroke="#4a4a4a" stroke-width="0.6" />
<line x1="135.2" y1="766.2" x2="135.2" y2="774.5" stroke="#4a4a4a" stroke-width="0.8" />
<circle cx="124.8" cy="771.2" r="1.3" fill="none" stroke="#4a4a4a" stroke-width="0.6"/>
<circle cx="129" cy="771.2" r="1.3" fill="none" stroke="#4a4a4a" stroke-width="0.6"/>
<circle cx="133.2" cy="771.2" r="1.3" fill="none" stroke="#4a4a4a" stroke-width="0.6"/>
<circle cx="137.7" cy="771.2" r="1.3" fill="none" stroke="#4a4a4a" stroke-width="0.6"/>
<circle cx="142.1" cy="771.2" r="1.3" fill="none" stroke="#4a4a4a" stroke-width="0.6"/>
<circle cx="146.5" cy="771.2" r="1.3" fill="none" stroke="#4a4a4a" stroke-width="0.6"/>
<circle cx="150.9" cy="771.2" r="1.3" fill="none" stroke="#4a4a4a" stroke-width="0.6"/>
<circle cx="155.3" cy="771.2" r="1.3" fill="none" stroke="#4a4a4a" stroke-width="0.6"/>
<circle cx="159.7" cy="771.2" r="1.3" fill="none" stroke="#4a4a4a" stroke-width="0.6"/>
<line x1="120.3" y1="778.4" x2="182.4" y2="778.4" stroke="#4a4a4a" stroke-width="0.9" />
<circle cx="134.9" cy="784.8" r="2.7" fill="#444" stroke="#4a4a4a" stroke-width="0.6"/>
<circle cx="143.1" cy="784.8" r="2.7" fill="#444" stroke="#4a4a4a" stroke-width="0.6"/>
<circle cx="151.1" cy="784.8" r="2.7" fill="#444" stroke="#4a4a4a" stroke-width="0.6"/>
<circle cx="158.9" cy="784.8" r="2.7" fill="#444" stroke="#4a4a4a" stroke-width="0.6"/>
<circle cx="167.2" cy="784.8" r="2.7" fill="#444" stroke="#4a4a4a" stroke-width="0.6"/>
<line x1="120.3" y1="795.5" x2="182.4" y2="795.5" stroke="#4a4a4a" stroke-width="0.9" />
<rect x="122.5" y="796.5" width="4.5" height="5.4" rx="0" fill="none" stroke="#555" stroke-width="0.7" />
<rect x="175.5" y="796.5" width="4.5" height="5.4" rx="0" fill="none" stroke="#555" stroke-width="0.7" />
<rect x="128.5" y="796" width="33.5" height="6.5" rx="0" fill="none" stroke="#555" stroke-width="0.8" />
<circle cx="132.4" cy="798.8" r="2.2" fill="#444" stroke="#4a4a4a" stroke-width="0.6"/>
<circle cx="158.6" cy="798.8" r="2.2" fill="#444" stroke="#4a4a4a" stroke-width="0.6"/>
<rect x="183.6" y="716.6" width="4.9" height="23.8" rx="0" fill="#fdfdfd" stroke="#555" stroke-width="0.7" />
<rect x="370.6" y="717" width="22.2" height="22.1" rx="0" fill="#fdfdfd" stroke="#555" stroke-width="0.7" />
<rect x="370.6" y="717" width="22.2" height="4.5" rx="0" fill="#bbb" stroke="#777" stroke-width="0.6" />
<rect x="370.6" y="735" width="22.2" height="4.1" rx="0" fill="#bbb" stroke="#777" stroke-width="0.6" />
<ellipse cx="375.9" cy="728.4" rx="4.3" ry="1.9" fill="none" stroke="#4a4a4a" stroke-width="0.8"/>
<ellipse cx="389.6" cy="728.4" rx="4.3" ry="1.9" fill="none" stroke="#4a4a4a" stroke-width="0.8"/>
<rect x="365.4" y="716.3" width="5.2" height="25.2" rx="0" fill="#fdfdfd" stroke="#555" stroke-width="0.7" />
<rect x="188.5" y="713" width="176.9" height="31.3" fill="url(#tv)"/>
<line x1="188.5" y1="715.5" x2="365.4" y2="715.5" stroke="#4a4a4a" stroke-width="1.3" />
<line x1="188.5" y1="721.4" x2="365.4" y2="721.4" stroke="#4a4a4a" stroke-width="1.2" />
<line x1="188.5" y1="725.5" x2="365.4" y2="725.5" stroke="#4a4a4a" stroke-width="0.8" />
<line x1="188.5" y1="731.4" x2="365.4" y2="731.4" stroke="#4a4a4a" stroke-width="0.8" />
<line x1="188.5" y1="735.7" x2="365.4" y2="735.7" stroke="#4a4a4a" stroke-width="1.3" />
<line x1="188.5" y1="741.4" x2="365.4" y2="741.4" stroke="#4a4a4a" stroke-width="1.2" />
<rect x="188.5" y="713" width="176.9" height="31.3" rx="0" fill="none" stroke="#555" stroke-width="0.8" />
<line x1="188.5" y1="745.5" x2="188.5" y2="762" stroke="#777" stroke-width="0.7" stroke-dasharray="3,2"/>
<line x1="210.5" y1="745.5" x2="210.5" y2="762" stroke="#777" stroke-width="0.7" stroke-dasharray="3,2"/>
<line x1="365.3" y1="745.5" x2="365.3" y2="762" stroke="#777" stroke-width="0.7" stroke-dasharray="3,2"/>
<text x="199.2" y="754.2" font-size="7.2" fill="#555" text-anchor="middle" textLength="19.6" lengthAdjust="spacingAndGlyphs">L1-L2-L3</text>
<text x="199.2" y="761" font-size="6.2" fill="#555" text-anchor="middle" textLength="11" lengthAdjust="spacingAndGlyphs" xml:space="preserve">N  PE</text>
<text x="287.7" y="754.2" font-size="7.2" fill="#555" text-anchor="middle" textLength="9.4" lengthAdjust="spacingAndGlyphs">1-45</text>
<polygon points="211.5,780.9 217.7,769.2 230.1,769.2 236.3,780.9 230.1,792.6 217.7,792.6" fill="none" stroke="#444" stroke-width="1.0" stroke-linejoin="round"/>
<circle cx="223.9" cy="780.9" r="7.3" fill="none" stroke="#444" stroke-width="1.5"/>
<circle cx="223.9" cy="780.9" r="4.8" fill="none" stroke="#444" stroke-width="1.5"/>
<polygon points="242.35,781.1 247.58,771.5 258.03,771.5 263.25,781.1 258.03,790.7 247.58,790.7" fill="none" stroke="#555" stroke-width="0.8" stroke-linejoin="round"/>
<circle cx="252.8" cy="781.1" r="7.35" fill="none" stroke="#555" stroke-width="0.8"/>
<circle cx="252.8" cy="781.1" r="5.1" fill="none" stroke="#555" stroke-width="0.8"/>
<polygon points="266.75,781.1 271.97,771.5 282.43,771.5 287.65,781.1 282.43,790.7 271.97,790.7" fill="none" stroke="#555" stroke-width="0.8" stroke-linejoin="round"/>
<circle cx="277.2" cy="781.1" r="7.35" fill="none" stroke="#555" stroke-width="0.8"/>
<circle cx="277.2" cy="781.1" r="5.1" fill="none" stroke="#555" stroke-width="0.8"/>
<polygon points="291.25,781.1 296.47,771.5 306.93,771.5 312.15,781.1 306.93,790.7 296.47,790.7" fill="none" stroke="#555" stroke-width="0.8" stroke-linejoin="round"/>
<circle cx="301.7" cy="781.1" r="7.35" fill="none" stroke="#555" stroke-width="0.8"/>
<circle cx="301.7" cy="781.1" r="5.1" fill="none" stroke="#555" stroke-width="0.8"/>
<polygon points="316.9,781.1 321.5,772.5 330.7,772.5 335.3,781.1 330.7,789.7 321.5,789.7" fill="none" stroke="#555" stroke-width="0.8" stroke-linejoin="round"/>
<circle cx="326.1" cy="781.1" r="6.4" fill="none" stroke="#555" stroke-width="0.8"/>
<circle cx="326.1" cy="781.1" r="5.2" fill="none" stroke="#555" stroke-width="0.8"/>
<circle cx="326.1" cy="781.1" r="4.3" fill="none" stroke="#555" stroke-width="0.7"/>
<polygon points="339.1,781.1 343.6,772.7 352.6,772.7 357.1,781.1 352.6,789.5 343.6,789.5" fill="none" stroke="#555" stroke-width="0.8" stroke-linejoin="round"/>
<circle cx="348.1" cy="781.1" r="6.2" fill="none" stroke="#555" stroke-width="0.8"/>
<circle cx="348.1" cy="781.1" r="5" fill="none" stroke="#555" stroke-width="0.8"/>
<circle cx="348.1" cy="781.1" r="4.1" fill="none" stroke="#555" stroke-width="0.7"/>
<polygon points="145.2,829.3 150.12,820.1 159.98,820.1 164.9,829.3 159.98,838.5 150.12,838.5" fill="none" stroke="#444" stroke-width="1.0" stroke-linejoin="round"/>
<circle cx="155.05" cy="829.3" r="7.3" fill="none" stroke="#444" stroke-width="1.0"/>
<circle cx="155.05" cy="829.3" r="5.5" fill="none" stroke="#444" stroke-width="1.0"/>
<polygon points="146.15,829.3 150.6,821 159.5,821 163.95,829.3 159.5,837.6 150.6,837.6" fill="none" stroke="#666" stroke-width="0.7" stroke-linejoin="round"/>
<circle cx="150" cy="858.3" r="6.7" fill="none" stroke="#555" stroke-width="0.8"/>
<circle cx="150" cy="969.8" r="5.2" fill="none" stroke="#555" stroke-width="0.8"/>
<circle cx="171.7" cy="858.3" r="6.7" fill="none" stroke="#555" stroke-width="0.8"/>
<circle cx="171.7" cy="969.8" r="5.2" fill="none" stroke="#555" stroke-width="0.8"/>
<circle cx="193.5" cy="858.3" r="6.7" fill="none" stroke="#555" stroke-width="0.8"/>
<circle cx="193.5" cy="969.8" r="5.2" fill="none" stroke="#555" stroke-width="0.8"/>
<circle cx="214.8" cy="858.3" r="6.7" fill="none" stroke="#555" stroke-width="0.8"/>
<circle cx="214.8" cy="969.8" r="5.2" fill="none" stroke="#555" stroke-width="0.8"/>
<circle cx="236.5" cy="858.3" r="6.7" fill="none" stroke="#555" stroke-width="0.8"/>
<circle cx="236.5" cy="969.8" r="5.2" fill="none" stroke="#555" stroke-width="0.8"/>
<circle cx="258.3" cy="858.3" r="6.7" fill="none" stroke="#555" stroke-width="0.8"/>
<circle cx="258.3" cy="969.8" r="5.2" fill="none" stroke="#555" stroke-width="0.8"/>
<circle cx="280" cy="858.3" r="6.7" fill="none" stroke="#555" stroke-width="0.8"/>
<circle cx="280" cy="969.8" r="5.2" fill="none" stroke="#555" stroke-width="0.8"/>
<circle cx="301.7" cy="858.3" r="6.7" fill="none" stroke="#555" stroke-width="0.8"/>
<circle cx="301.7" cy="969.8" r="5.2" fill="none" stroke="#555" stroke-width="0.8"/>
<rect x="153.1" y="912" width="14.6" height="4.4" rx="2.2" fill="none" stroke="#555" stroke-width="0.8" />
<rect x="246" y="912" width="14.6" height="4.4" rx="2.2" fill="none" stroke="#555" stroke-width="0.8" />
<rect x="338.5" y="912" width="14.6" height="4.4" rx="2.2" fill="none" stroke="#555" stroke-width="0.8" />
<rect x="432.5" y="219.5" width="412.0" height="21" fill="#d2d3d5"/>
<rect x="432.5" y="240.5" width="412.0" height="21" fill="#e6e7e8"/>
<line x1="546.5" y1="279.34" x2="844.5" y2="279.34" stroke="#bdbdbd" stroke-width="1.6"/>
<line x1="546.5" y1="296.87" x2="844.5" y2="296.87" stroke="#bdbdbd" stroke-width="1.6"/>
<line x1="546.5" y1="331.94" x2="844.5" y2="331.94" stroke="#bdbdbd" stroke-width="1.6"/>
<line x1="546.5" y1="367.01" x2="844.5" y2="367.01" stroke="#bdbdbd" stroke-width="1.6"/>
<line x1="546.5" y1="384.55" x2="844.5" y2="384.55" stroke="#bdbdbd" stroke-width="1.6"/>
<line x1="546.5" y1="419.62" x2="844.5" y2="419.62" stroke="#bdbdbd" stroke-width="1.6"/>
<line x1="546.5" y1="437.15" x2="844.5" y2="437.15" stroke="#bdbdbd" stroke-width="1.6"/>
<line x1="546.5" y1="472.22" x2="844.5" y2="472.22" stroke="#bdbdbd" stroke-width="1.6"/>
<line x1="546.5" y1="489.75" x2="844.5" y2="489.75" stroke="#bdbdbd" stroke-width="1.6"/>
<line x1="546.5" y1="524.83" x2="844.5" y2="524.83" stroke="#bdbdbd" stroke-width="1.6"/>
<line x1="546.5" y1="559.89" x2="844.5" y2="559.89" stroke="#bdbdbd" stroke-width="1.6"/>
<line x1="546.5" y1="594.97" x2="844.5" y2="594.97" stroke="#bdbdbd" stroke-width="1.6"/>
<line x1="546.5" y1="630.04" x2="844.5" y2="630.04" stroke="#bdbdbd" stroke-width="1.6"/>
<line x1="546.5" y1="665.11" x2="844.5" y2="665.11" stroke="#bdbdbd" stroke-width="1.6"/>
<line x1="546.5" y1="700.17" x2="844.5" y2="700.17" stroke="#bdbdbd" stroke-width="1.6"/>
<line x1="546.5" y1="735.25" x2="844.5" y2="735.25" stroke="#bdbdbd" stroke-width="1.6"/>
<line x1="546.5" y1="770.32" x2="844.5" y2="770.32" stroke="#bdbdbd" stroke-width="1.6"/>
<line x1="546.5" y1="805.38" x2="844.5" y2="805.38" stroke="#bdbdbd" stroke-width="1.6"/>
<line x1="546.5" y1="840.45" x2="844.5" y2="840.45" stroke="#bdbdbd" stroke-width="1.6"/>
<line x1="546.5" y1="857.99" x2="844.5" y2="857.99" stroke="#bdbdbd" stroke-width="1.6"/>
<line x1="546.5" y1="893.06" x2="844.5" y2="893.06" stroke="#bdbdbd" stroke-width="1.6"/>
<line x1="546.5" y1="928.13" x2="844.5" y2="928.13" stroke="#bdbdbd" stroke-width="1.6"/>
<line x1="546.5" y1="963.20" x2="844.5" y2="963.20" stroke="#bdbdbd" stroke-width="1.6"/>
<line x1="546.5" y1="980.74" x2="844.5" y2="980.74" stroke="#bdbdbd" stroke-width="1.6"/>
<line x1="546.5" y1="1147.8" x2="844.5" y2="1147.8" stroke="#bdbdbd" stroke-width="1.6"/>
<line x1="432.5" y1="261.80" x2="844.5" y2="261.80" stroke="#858585" stroke-width="1.1"/>
<line x1="432.5" y1="314.41" x2="844.5" y2="314.41" stroke="#858585" stroke-width="1.1"/>
<line x1="432.5" y1="349.48" x2="844.5" y2="349.48" stroke="#858585" stroke-width="1.1"/>
<line x1="432.5" y1="402.08" x2="844.5" y2="402.08" stroke="#858585" stroke-width="1.1"/>
<line x1="432.5" y1="454.69" x2="844.5" y2="454.69" stroke="#858585" stroke-width="1.1"/>
<line x1="432.5" y1="507.29" x2="844.5" y2="507.29" stroke="#858585" stroke-width="1.1"/>
<line x1="432.5" y1="542.36" x2="844.5" y2="542.36" stroke="#858585" stroke-width="1.1"/>
<line x1="432.5" y1="577.43" x2="844.5" y2="577.43" stroke="#858585" stroke-width="1.1"/>
<line x1="432.5" y1="612.50" x2="844.5" y2="612.50" stroke="#858585" stroke-width="1.1"/>
<line x1="432.5" y1="647.57" x2="844.5" y2="647.57" stroke="#858585" stroke-width="1.1"/>
<line x1="432.5" y1="682.64" x2="844.5" y2="682.64" stroke="#858585" stroke-width="1.1"/>
<line x1="432.5" y1="717.71" x2="844.5" y2="717.71" stroke="#858585" stroke-width="1.1"/>
<line x1="432.5" y1="752.78" x2="844.5" y2="752.78" stroke="#858585" stroke-width="1.1"/>
<line x1="432.5" y1="787.85" x2="844.5" y2="787.85" stroke="#858585" stroke-width="1.1"/>
<line x1="432.5" y1="822.92" x2="844.5" y2="822.92" stroke="#858585" stroke-width="1.1"/>
<line x1="432.5" y1="875.53" x2="844.5" y2="875.53" stroke="#858585" stroke-width="1.1"/>
<line x1="432.5" y1="910.60" x2="844.5" y2="910.60" stroke="#858585" stroke-width="1.1"/>
<line x1="432.5" y1="945.66" x2="844.5" y2="945.66" stroke="#858585" stroke-width="1.1"/>
<line x1="432.5" y1="998.27" x2="844.5" y2="998.27" stroke="#858585" stroke-width="1.1"/>
<line x1="432.5" y1="1015.81" x2="844.5" y2="1015.81" stroke="#858585" stroke-width="1.1"/>
<line x1="432.5" y1="1033.34" x2="844.5" y2="1033.34" stroke="#858585" stroke-width="1.1"/>
<line x1="432.5" y1="1050.88" x2="844.5" y2="1050.88" stroke="#858585" stroke-width="1.1"/>
<line x1="432.5" y1="1068.41" x2="844.5" y2="1068.41" stroke="#858585" stroke-width="1.1"/>
<line x1="432.5" y1="1085.94" x2="844.5" y2="1085.94" stroke="#858585" stroke-width="1.1"/>
<line x1="432.5" y1="240.5" x2="844.5" y2="240.5" stroke="#858585" stroke-width="1.1"/>
<line x1="546.5" y1="240.5" x2="546.5" y2="1206.9" stroke="#858585" stroke-width="1.1"/>
<rect x="432.5" y="219.5" width="412.0" height="987.40" fill="none" stroke="#858585" stroke-width="1.1"/>
<line x1="74.3" y1="197.5" x2="845.7" y2="197.5" stroke="#4d4d4f" stroke-width="1.2"/>
<text transform="translate(638.50,234.30) scale(1,1.04)" font-size="12.3" font-weight="bold" fill="#231f20" text-anchor="middle" >Conexiunile electrice</text>
<text transform="translate(438.60,255.50) scale(1,1.04)" font-size="12.3" font-weight="bold" fill="#231f20" text-anchor="start" >conexiuni</text>
<text transform="translate(552.50,255.50) scale(1,1.04)" font-size="12.3" font-weight="bold" fill="#231f20" text-anchor="start" >Descriere</text>
<text transform="translate(552.50,275.00) scale(1,1.04)" font-size="12.3" font-weight="normal" fill="#231f20" text-anchor="start" >Sursa de curent a cazanului</text>
<text transform="translate(552.50,292.54) scale(1,1.04)" font-size="12.3" font-weight="normal" fill="#231f20" text-anchor="start" >230 V c.a. +10% -15%</text>
<text transform="translate(552.50,310.07) scale(1,1.04)" font-size="12.3" font-weight="normal" fill="#231f20" text-anchor="start" >50 Hz 16 A</text>
<text transform="translate(552.50,327.61) scale(1,1.04)" font-size="12.3" font-weight="normal" fill="#231f20" text-anchor="start" >QX2 rezervat</text>
<text transform="translate(552.50,362.68) scale(1,1.04)" font-size="12.3" font-weight="normal" fill="#231f20" text-anchor="start" >Intrare blocare</text>
<text transform="translate(552.50,380.21) scale(1,1.04)" font-size="12.3" font-weight="normal" fill="#231f20" text-anchor="start" >230 V c.a.</text>
<text transform="translate(552.50,397.75) scale(1,1.04)" font-size="12.3" font-weight="normal" fill="#231f20" text-anchor="start" >5 mA – 1 A, cos φ &gt; 0,6</text>
<text transform="translate(552.50,415.28) scale(1,1.04)" font-size="12.3" font-weight="normal" fill="#231f20" text-anchor="start" >Semnal OK/alarmă (fără potențial)</text>
<text transform="translate(552.50,432.81) scale(1,1.04)" font-size="12.3" font-weight="normal" fill="#231f20" text-anchor="start" >230 V c.a. +10% -15%</text>
<text transform="translate(552.50,450.35) scale(1,1.04)" font-size="12.3" font-weight="normal" fill="#231f20" text-anchor="start" >Max. 1 0mA – 1 A</text>
<text transform="translate(552.50,467.88) scale(1,1.04)" font-size="12.3" font-weight="normal" fill="#231f20" text-anchor="start" >Semnal de funcționare (fără potențial)</text>
<text transform="translate(552.50,485.42) scale(1,1.04)" font-size="12.3" font-weight="normal" fill="#231f20" text-anchor="start" >230 V c.a. +10% -15%</text>
<text transform="translate(552.50,502.95) scale(1,1.04)" font-size="12.3" font-weight="normal" fill="#231f20" text-anchor="start" >Max. 1 0mA – 1 A</text>
<text transform="translate(552.50,520.49) scale(1,1.04)" font-size="12.3" font-weight="normal" fill="#231f20" text-anchor="start" >BX1, programabil</text>
<text transform="translate(552.50,538.03) scale(1,1.04)" font-size="12.3" font-weight="normal" fill="#231f20" text-anchor="start" >I ≤ 120 m NTC 10 KΩ</text>
<text transform="translate(552.50,555.56) scale(1,1.04)" font-size="12.3" font-weight="normal" fill="#231f20" text-anchor="start" >BX2 temperatură compensator Senzor</text>
<text transform="translate(552.50,573.10) scale(1,1.04)" font-size="12.3" font-weight="normal" fill="#231f20" text-anchor="start" >I ≤ 120 m NTC 10 KΩ</text>
<text transform="translate(552.50,590.63) scale(1,1.04)" font-size="12.3" font-weight="normal" fill="#231f20" text-anchor="start" >B3/B38 Termostat DHW/senzor de temp.</text>
<text transform="translate(552.50,608.17) scale(1,1.04)" font-size="12.3" font-weight="normal" fill="#231f20" text-anchor="start" >(Parametru) I ≤ 10 m 5 V c.c.</text>
<text transform="translate(552.50,625.70) scale(1,1.04)" font-size="12.3" font-weight="normal" fill="#231f20" text-anchor="start" >B9 Senzor temp. ext.</text>
<text transform="translate(552.50,643.24) scale(1,1.04)" font-size="12.3" font-weight="normal" fill="#231f20" text-anchor="start" >I ≤ 120 m NTC 1 KΩ</text>
<text transform="translate(552.50,660.77) scale(1,1.04)" font-size="12.3" font-weight="normal" fill="#231f20" text-anchor="start" >H1 influență externă</text>
<text transform="translate(552.50,678.31) scale(1,1.04)" font-size="12.3" font-weight="normal" fill="#231f20" text-anchor="start" >0,15-10 V c.c. I ≤ 10 m Ri &gt;100 KΩ</text>
<text transform="translate(552.50,695.84) scale(1,1.04)" font-size="12.3" font-weight="normal" fill="#231f20" text-anchor="start" >H4, programabil</text>
<text transform="translate(552.50,730.91) scale(1,1.04)" font-size="12.3" font-weight="normal" fill="#231f20" text-anchor="start" >H5 Activare cazan</text>
<text transform="translate(552.50,748.45) scale(1,1.04)" font-size="12.3" font-weight="normal" fill="#231f20" text-anchor="start" >I ≤ 120 m 5 V c.c./2 mA</text>
<text transform="translate(552.50,765.98) scale(1,1.04)" font-size="12.3" font-weight="normal" fill="#231f20" text-anchor="start" >Pompă cu comandă de turație</text>
<text transform="translate(552.50,783.52) scale(1,1.04)" font-size="12.3" font-weight="normal" fill="#231f20" text-anchor="start" >0 – 10 V c.c. Imax. 2,7 mA SELV</text>
<text transform="translate(552.50,801.05) scale(1,1.04)" font-size="12.3" font-weight="normal" fill="#231f20" text-anchor="start" >Indicatorul de capacitate a cazanului</text>
<text transform="translate(552.50,818.59) scale(1,1.04)" font-size="12.3" font-weight="normal" fill="#231f20" text-anchor="start" >0 – 10 V c.c. Imax. 2,7 mA SELV</text>
<text transform="translate(552.50,836.12) scale(1,1.04)" font-size="12.3" font-weight="normal" fill="#231f20" text-anchor="start" >QAA75</text>
<text transform="translate(552.50,853.65) scale(1,1.04)" font-size="12.3" font-weight="normal" fill="#231f20" text-anchor="start" >Unitate de cameră</text>
<text transform="translate(552.50,888.73) scale(1,1.04)" font-size="12.3" font-weight="normal" fill="#231f20" text-anchor="start" >Pompă PWM</text>
<text transform="translate(552.50,923.80) scale(1,1.04)" font-size="12.3" font-weight="normal" fill="#231f20" text-anchor="start" >Magistrală LPB</text>
<text transform="translate(552.50,958.87) scale(1,1.04)" font-size="12.3" font-weight="normal" fill="#231f20" text-anchor="start" >Pornire/oprire</text>
<text transform="translate(552.50,976.40) scale(1,1.04)" font-size="12.3" font-weight="normal" fill="#231f20" text-anchor="start" >Pompă cu comandă de turație</text>
<text transform="translate(552.50,993.94) scale(1,1.04)" font-size="12.3" font-weight="normal" fill="#231f20" text-anchor="start" >Max. 24 V c.a., Max. 10 mA – 1 A</text>
<text transform="translate(552.50,1011.47) scale(1,1.04)" font-size="12.3" font-weight="normal" fill="#231f20" text-anchor="start" >Pompă cazan/derivație</text>
<text transform="translate(552.50,1029.01) scale(1,1.04)" font-size="12.3" font-weight="normal" fill="#231f20" text-anchor="start" >AC3 380/400 V c.a. 11KW Max.</text>
<text transform="translate(552.50,1064.08) scale(1,1.04)" font-size="12.3" font-weight="normal" fill="#231f20" text-anchor="start" >Consultați pagina 242</text>
<text transform="translate(439.50,275.30) scale(1,1.04)" font-size="12.3" font-weight="normal" fill="#231f20" text-anchor="start" >L1/L2/L3/</text>
<text transform="translate(439.50,288.10) scale(1,1.04)" font-size="12.3" font-weight="normal" fill="#231f20" text-anchor="start" >N/PE</text>
<text transform="translate(439.50,327.91) scale(1,1.04)" font-size="12.3" font-weight="normal" fill="#231f20" text-anchor="start" >9</text>
<text transform="translate(439.50,340.71) scale(1,1.04)" font-size="12.3" font-weight="normal" fill="#231f20" text-anchor="start" >10 (N)</text>
<text transform="translate(439.50,375.63) scale(1,1.04)" font-size="12.3" font-weight="normal" fill="#231f20" text-anchor="start" >13 / 14 / 15 /</text>
<text transform="translate(439.50,388.33) scale(1,1.04)" font-size="12.3" font-weight="normal" fill="#231f20" text-anchor="start" >16 / 17  / 18</text>
<text transform="translate(439.50,417.68) scale(1,1.04)" font-size="12.3" font-weight="normal" fill="#231f20" text-anchor="start" >29  (comun)</text>
<text transform="translate(439.50,435.22) scale(1,1.04)" font-size="12.3" font-weight="normal" fill="#231f20" text-anchor="start" >30  (alarmă)</text>
<text transform="translate(439.50,452.75) scale(1,1.04)" font-size="12.3" font-weight="normal" fill="#231f20" text-anchor="start" >31  (OK)</text>
<text transform="translate(439.50,468.19) scale(1,1.04)" font-size="12.3" font-weight="normal" fill="#231f20" text-anchor="start" >32  (comun)</text>
<text transform="translate(439.50,485.72) scale(1,1.04)" font-size="12.3" font-weight="normal" fill="#231f20" text-anchor="start" >33  (ON)</text>
<text transform="translate(439.50,503.25) scale(1,1.04)" font-size="12.3" font-weight="normal" fill="#231f20" text-anchor="start" >34  (OFF)</text>
<text transform="translate(439.50,520.79) scale(1,1.04)" font-size="12.3" font-weight="normal" fill="#231f20" text-anchor="start" >102</text>
<text transform="translate(439.50,538.32) scale(1,1.04)" font-size="12.3" font-weight="normal" fill="#231f20" text-anchor="start" >103 (MASĂ)</text>
<text transform="translate(439.50,555.86) scale(1,1.04)" font-size="12.3" font-weight="normal" fill="#231f20" text-anchor="start" >104</text>
<text transform="translate(439.50,573.39) scale(1,1.04)" font-size="12.3" font-weight="normal" fill="#231f20" text-anchor="start" >105 (MASĂ)</text>
<text transform="translate(439.50,590.93) scale(1,1.04)" font-size="12.3" font-weight="normal" fill="#231f20" text-anchor="start" >108</text>
<text transform="translate(439.50,608.47) scale(1,1.04)" font-size="12.3" font-weight="normal" fill="#231f20" text-anchor="start" >109 (MASĂ)</text>
<text transform="translate(439.50,626.00) scale(1,1.04)" font-size="12.3" font-weight="normal" fill="#231f20" text-anchor="start" >110</text>
<text transform="translate(439.50,643.53) scale(1,1.04)" font-size="12.3" font-weight="normal" fill="#231f20" text-anchor="start" >111 (MASĂ)</text>
<text transform="translate(439.50,661.07) scale(1,1.04)" font-size="12.3" font-weight="normal" fill="#231f20" text-anchor="start" >112</text>
<text transform="translate(439.50,678.60) scale(1,1.04)" font-size="12.3" font-weight="normal" fill="#231f20" text-anchor="start" >113 (MASĂ)</text>
<text transform="translate(439.50,696.14) scale(1,1.04)" font-size="12.3" font-weight="normal" fill="#231f20" text-anchor="start" >114</text>
<text transform="translate(439.50,713.68) scale(1,1.04)" font-size="12.3" font-weight="normal" fill="#231f20" text-anchor="start" >115 (MASĂ)</text>
<text transform="translate(439.50,731.21) scale(1,1.04)" font-size="12.3" font-weight="normal" fill="#231f20" text-anchor="start" >116</text>
<text transform="translate(439.50,748.75) scale(1,1.04)" font-size="12.3" font-weight="normal" fill="#231f20" text-anchor="start" >117 (MASĂ)</text>
<text transform="translate(439.50,766.28) scale(1,1.04)" font-size="12.3" font-weight="normal" fill="#231f20" text-anchor="start" >118</text>
<text transform="translate(439.50,783.81) scale(1,1.04)" font-size="12.3" font-weight="normal" fill="#231f20" text-anchor="start" >119 (MASĂ)</text>
<text transform="translate(439.50,801.35) scale(1,1.04)" font-size="12.3" font-weight="normal" fill="#231f20" text-anchor="start" >120</text>
<text transform="translate(439.50,818.88) scale(1,1.04)" font-size="12.3" font-weight="normal" fill="#231f20" text-anchor="start" >121 (MASĂ)</text>
<text transform="translate(439.50,836.42) scale(1,1.04)" font-size="12.3" font-weight="normal" fill="#231f20" text-anchor="start" >130 (CL+)</text>
<text transform="translate(439.50,853.96) scale(1,1.04)" font-size="12.3" font-weight="normal" fill="#231f20" text-anchor="start" >131 (CL-)</text>
<text transform="translate(439.50,871.49) scale(1,1.04)" font-size="12.3" font-weight="normal" fill="#231f20" text-anchor="start" >132 (G+)</text>
<text transform="translate(439.50,889.03) scale(1,1.04)" font-size="12.3" font-weight="normal" fill="#231f20" text-anchor="start" >137</text>
<text transform="translate(439.50,906.56) scale(1,1.04)" font-size="12.3" font-weight="normal" fill="#231f20" text-anchor="start" >138 (MASĂ)</text>
<text transform="translate(439.50,924.10) scale(1,1.04)" font-size="12.3" font-weight="normal" fill="#231f20" text-anchor="start" >139 (DB)</text>
<text transform="translate(439.50,941.63) scale(1,1.04)" font-size="12.3" font-weight="normal" fill="#231f20" text-anchor="start" >140 (MB)</text>
<text transform="translate(439.50,971.82) scale(1,1.04)" font-size="12.3" font-weight="normal" fill="#231f20" text-anchor="start" >141</text>
<text transform="translate(439.50,984.52) scale(1,1.04)" font-size="12.3" font-weight="normal" fill="#231f20" text-anchor="start" >142</text>
<text transform="translate(439.50,1011.77) scale(1,1.04)" font-size="12.3" font-weight="normal" fill="#231f20" text-anchor="start" >MR (releu)</text>
<text transform="translate(439.50,1029.31) scale(1,1.04)" font-size="12.3" font-weight="normal" fill="#231f20" text-anchor="start" >2 T1</text>
<text transform="translate(439.50,1046.84) scale(1,1.04)" font-size="12.3" font-weight="normal" fill="#231f20" text-anchor="start" >4 T2</text>
<text transform="translate(439.50,1064.38) scale(1,1.04)" font-size="12.3" font-weight="normal" fill="#231f20" text-anchor="start" >6 T3</text>
<text transform="translate(439.50,1081.91) scale(1,1.04)" font-size="12.3" font-weight="normal" fill="#231f20" text-anchor="start" >14 N0</text>
<text transform="translate(439.50,1153.00) scale(1,1.04)" font-size="12.3" font-weight="normal" fill="#231f20" text-anchor="start" >F1 (siguranță)</text>
<text transform="translate(552.50,1102.90) scale(1,1.04)" font-size="12.3" font-weight="normal" fill="#231f20" text-anchor="start" >10 A CC, 500 V (10,3 mm x 38 mm)</text>
<text transform="translate(552.50,1115.10) scale(1,1.04)" font-size="12.3" font-weight="normal" fill="#231f20" text-anchor="start" >Tip SE 1300 – SE 1500</text>
<text transform="translate(552.50,1127.30) scale(1,1.04)" font-size="12.3" font-weight="normal" fill="#231f20" text-anchor="start" >Tip ECO 1150 – ECO 1300</text>
<text transform="translate(552.50,1139.50) scale(1,1.04)" font-size="12.3" font-weight="normal" fill="#231f20" text-anchor="start" >Tip EVO 1200 – EVO 1400</text>
<text transform="translate(552.50,1163.10) scale(1,1.04)" font-size="12.3" font-weight="normal" fill="#231f20" text-anchor="start" >15A CC, 500 V (10,3 mm x 38 mm)</text>
<text transform="translate(552.50,1175.30) scale(1,1.04)" font-size="12.3" font-weight="normal" fill="#231f20" text-anchor="start" >Tip SE 1700 – SE 1900</text>
<text transform="translate(552.50,1187.50) scale(1,1.04)" font-size="12.3" font-weight="normal" fill="#231f20" text-anchor="start" >Tip ECO 1450 – ECO 1600</text>
<text transform="translate(552.50,1199.70) scale(1,1.04)" font-size="12.3" font-weight="normal" fill="#231f20" text-anchor="start" >Tip EVO 1550 – EVO 1700</text>
<text transform="translate(74.50,59.00) scale(1,1.04)" font-size="24.5" font-weight="bold" fill="#231f20" text-anchor="start" >Schemă electrică</text>
<text transform="translate(74.50,122.40) scale(1,1.04)" font-size="24.5" font-weight="bold" fill="#231f20" text-anchor="start" letter-spacing="0.11">Conexiunile electrice ale SE 1300 - SE 1900</text>
<text transform="translate(373.50,151.60) scale(1,1.04)" font-size="24.5" font-weight="bold" fill="#231f20" text-anchor="start" >ECO 1150 - ECO 1600</text>
<text transform="translate(373.50,181.40) scale(1,1.04)" font-size="24.5" font-weight="bold" fill="#231f20" text-anchor="start" >EVO 1200 - EVO 1700</text>
<text transform="translate(74.80,1271.80) scale(1,1.04)" font-size="13" font-weight="normal" fill="#4a4a4a" text-anchor="start" textLength="19" lengthAdjust="spacingAndGlyphs">222</text>
</svg>
</body></html>
